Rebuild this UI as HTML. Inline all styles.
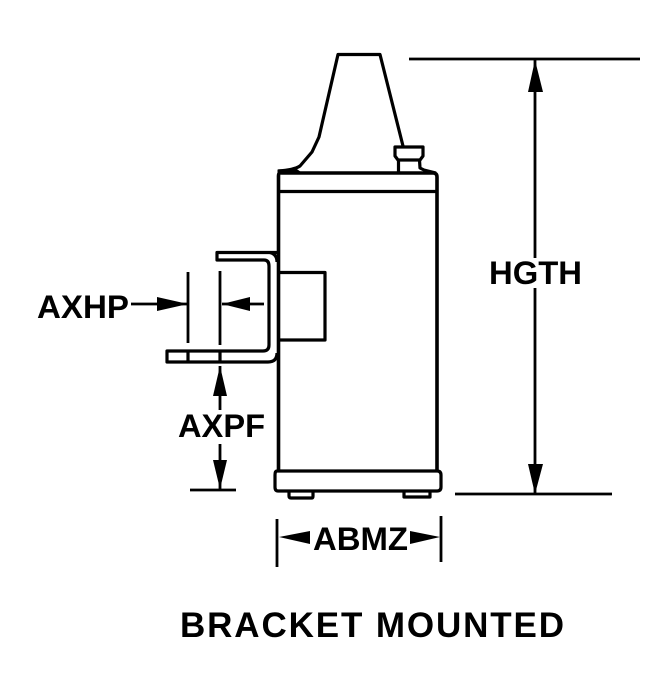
<!DOCTYPE html>
<html><head><meta charset="utf-8"><style>html,body{margin:0;padding:0;background:#fff}svg{display:block}text{font-family:"Liberation Sans",sans-serif;font-weight:bold;fill:#000}</style></head>
<body>
<svg width="660" height="690" viewBox="0 0 660 690" xmlns="http://www.w3.org/2000/svg">
<g fill="none" stroke="#000" stroke-width="3.2" stroke-linejoin="round">
<path d="M403 146 L380 54.5 H338 L319 137 L312 152 L300 166 Q294 170 278 171"/>
<path d="M278.5 470 V176 Q278.5 172 282 173 H433 Q437 173 437 177 V470" stroke-width="3.6"/>
<path d="M278 170 L296 169 L303 174 H278 Z" fill="#000" stroke-width="1"/>
<path d="M278 191.5 H437"/>
<path d="M395 147 H423 V156 L420 160 H398 L395 156 Z"/>
<path d="M398.5 160 V173 M419.5 160 L420 168 L424 170 L436 173"/>
<path d="M279 272.5 H325 V340 H279"/>
<path d="M277 252.5 H217 V260 H264 Q269 260 269 266 V345 Q269 351 263 351 H167 V362 H268 Q277 362 277 353"/>
<path d="M277 262 Q277 254 270 252.5"/>
<path d="M188 351 V362 M220 351 V362"/>
<path d="M277 471 H437 Q441 471 441 475 V487 Q441 491 437 491 H278 Q275 491 275 487 V475 Q275 471 277 471 Z"/>
<path d="M289 491 V496 Q289 498 291 498 H312 Q313 498 313 496 V491 M404 491 V497 H430 V491"/>
</g>
<g stroke="#000" stroke-width="2.8" fill="none">
<path d="M409 59 H640 M455 494 H612 M190 490 H236"/>
<path d="M535 60 V258 M535 288 V493"/>
<path d="M188 272 V343 M220 271 V345"/>
<path d="M131 304 H188 M222 304 H264"/>
<path d="M220 366 V410 M220 444 V490"/>
<path d="M277 519 V567 M441 516 V562"/>
</g>
<g fill="#000">
<path d="M535 60 L528 92 H543 Z"/>
<path d="M535 494 L528 464 H543 Z"/>
<path d="M188 304 L157 297 V311 Z"/>
<path d="M222 304 L250 297 V311 Z"/>
<path d="M220 366 L213 396 H227 Z"/>
<path d="M220 489 L213 460 H227 Z"/>
<path d="M279 537 L310 531 V544 Z"/>
<path d="M440 537 L410 531 V544 Z"/>
</g>
<text x="489" y="284" font-size="32" textLength="93" lengthAdjust="spacingAndGlyphs">HGTH</text>
<text x="37" y="318" font-size="32" textLength="92" lengthAdjust="spacingAndGlyphs">AXHP</text>
<text x="178" y="437" font-size="32" textLength="87" lengthAdjust="spacingAndGlyphs">AXPF</text>
<text x="313" y="550" font-size="32" textLength="95" lengthAdjust="spacingAndGlyphs">ABMZ</text>
<text x="180" y="637" font-size="35" textLength="384" lengthAdjust="spacing">BRACKET MOUNTED</text>
</svg>
</body></html>
